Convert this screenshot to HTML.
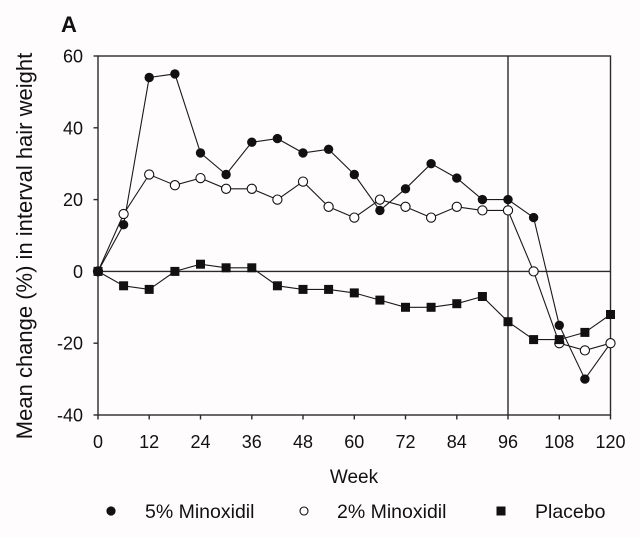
<!DOCTYPE html>
<html>
<head>
<meta charset="utf-8">
<style>
html,body{margin:0;padding:0;background:#fffcfe;}
svg{display:block;}
text{font-family:"Liberation Sans",Arial,sans-serif;fill:#111;}
</style>
</head>
<body>
<svg width="640" height="537" viewBox="0 0 640 537" xmlns="http://www.w3.org/2000/svg">
<rect x="0" y="0" width="640" height="537" fill="#fffcfe"/>
<text x="61" y="32" font-size="22" font-weight="bold">A</text>

<!-- plot frame -->
<g stroke="#2a2a2a" stroke-width="1.4" fill="none">
<rect x="98" y="56" width="512.5" height="359"/>
<line x1="98" y1="271.4" x2="610.5" y2="271.4"/>
<line x1="508" y1="56" x2="508" y2="415"/>
<!-- y ticks -->
<line x1="93.5" y1="56" x2="98" y2="56"/>
<line x1="93.5" y1="127.8" x2="98" y2="127.8"/>
<line x1="93.5" y1="199.6" x2="98" y2="199.6"/>
<line x1="93.5" y1="271.4" x2="98" y2="271.4"/>
<line x1="93.5" y1="343.2" x2="98" y2="343.2"/>
<line x1="93.5" y1="415" x2="98" y2="415"/>
<!-- x ticks -->
<line x1="98" y1="415" x2="98" y2="419.5"/>
<line x1="149.2" y1="415" x2="149.2" y2="419.5"/>
<line x1="200.5" y1="415" x2="200.5" y2="419.5"/>
<line x1="251.8" y1="415" x2="251.8" y2="419.5"/>
<line x1="303" y1="415" x2="303" y2="419.5"/>
<line x1="354.3" y1="415" x2="354.3" y2="419.5"/>
<line x1="405.5" y1="415" x2="405.5" y2="419.5"/>
<line x1="456.8" y1="415" x2="456.8" y2="419.5"/>
<line x1="508" y1="415" x2="508" y2="419.5"/>
<line x1="559.3" y1="415" x2="559.3" y2="419.5"/>
<line x1="610.5" y1="415" x2="610.5" y2="419.5"/>
</g>

<!-- y tick labels -->
<g font-size="18" text-anchor="end">
<text x="83" y="62.5">60</text>
<text x="83" y="134.3">40</text>
<text x="83" y="206.1">20</text>
<text x="83" y="277.9">0</text>
<text x="83" y="349.7">-20</text>
<text x="83" y="421.5">-40</text>
</g>
<!-- x tick labels -->
<g font-size="18" text-anchor="middle">
<text x="98" y="448">0</text>
<text x="149.2" y="448">12</text>
<text x="200.5" y="448">24</text>
<text x="251.8" y="448">36</text>
<text x="303" y="448">48</text>
<text x="354.3" y="448">60</text>
<text x="405.5" y="448">72</text>
<text x="456.8" y="448">84</text>
<text x="508" y="448">96</text>
<text x="559.3" y="448">108</text>
<text x="610.5" y="448">120</text>
</g>
<text x="354" y="483" font-size="19" text-anchor="middle">Week</text>
<text transform="translate(32,246) rotate(-90)" font-size="22" text-anchor="middle">Mean change (%) in interval hair weight</text>

<!-- series lines -->
<g fill="none" stroke="#1a1a1a" stroke-width="1.1">
<polyline points="98,271.4 123.6,224.7 149.2,77.5 174.9,73.9 200.5,152.9 226.1,174.5 251.8,142.2 277.4,138.6 303,152.9 328.6,149.3 354.3,174.5 379.9,210.4 405.5,188.8 431.1,163.7 456.8,178.1 482.4,199.6 508,199.6 533.6,217.6 559.3,325.3 584.9,379.1 610.5,343.2"/>
<polyline points="98,271.4 123.6,214 149.2,174.5 174.9,185.2 200.5,178.1 226.1,188.8 251.8,188.8 277.4,199.6 303,181.6 328.6,206.8 354.3,217.6 379.9,199.6 405.5,206.8 431.1,217.6 456.8,206.8 482.4,210.4 508,210.4 533.6,271.4 559.3,343.2 584.9,350.4 610.5,343.2"/>
<polyline points="98,271.4 123.6,285.8 149.2,289.4 174.9,271.4 200.5,264.2 226.1,267.8 251.8,267.8 277.4,285.8 303,289.4 328.6,289.4 354.3,292.9 379.9,300.1 405.5,307.3 431.1,307.3 456.8,303.7 482.4,296.5 508,321.7 533.6,339.6 559.3,339.6 584.9,332.4 610.5,314.5"/>
</g>

<!-- 5% markers -->
<g fill="#111">
<circle cx="98" cy="271.4" r="4.7"/><circle cx="123.6" cy="224.7" r="4.7"/><circle cx="149.2" cy="77.5" r="4.7"/><circle cx="174.9" cy="73.9" r="4.7"/><circle cx="200.5" cy="152.9" r="4.7"/><circle cx="226.1" cy="174.5" r="4.7"/><circle cx="251.8" cy="142.2" r="4.7"/><circle cx="277.4" cy="138.6" r="4.7"/><circle cx="303" cy="152.9" r="4.7"/><circle cx="328.6" cy="149.3" r="4.7"/><circle cx="354.3" cy="174.5" r="4.7"/><circle cx="379.9" cy="210.4" r="4.7"/><circle cx="405.5" cy="188.8" r="4.7"/><circle cx="431.1" cy="163.7" r="4.7"/><circle cx="456.8" cy="178.1" r="4.7"/><circle cx="482.4" cy="199.6" r="4.7"/><circle cx="508" cy="199.6" r="4.7"/><circle cx="533.6" cy="217.6" r="4.7"/><circle cx="559.3" cy="325.3" r="4.7"/><circle cx="584.9" cy="379.1" r="4.7"/><circle cx="610.5" cy="343.2" r="4.7"/>
</g>
<!-- 2% markers -->
<g fill="#fff" stroke="#111" stroke-width="1.1">
<circle cx="98" cy="271.4" r="4.6"/><circle cx="123.6" cy="214" r="4.6"/><circle cx="149.2" cy="174.5" r="4.6"/><circle cx="174.9" cy="185.2" r="4.6"/><circle cx="200.5" cy="178.1" r="4.6"/><circle cx="226.1" cy="188.8" r="4.6"/><circle cx="251.8" cy="188.8" r="4.6"/><circle cx="277.4" cy="199.6" r="4.6"/><circle cx="303" cy="181.6" r="4.6"/><circle cx="328.6" cy="206.8" r="4.6"/><circle cx="354.3" cy="217.6" r="4.6"/><circle cx="379.9" cy="199.6" r="4.6"/><circle cx="405.5" cy="206.8" r="4.6"/><circle cx="431.1" cy="217.6" r="4.6"/><circle cx="456.8" cy="206.8" r="4.6"/><circle cx="482.4" cy="210.4" r="4.6"/><circle cx="508" cy="210.4" r="4.6"/><circle cx="533.6" cy="271.4" r="4.6"/><circle cx="559.3" cy="343.2" r="4.6"/><circle cx="584.9" cy="350.4" r="4.6"/><circle cx="610.5" cy="343.2" r="4.6"/>
</g>
<!-- placebo markers -->
<g fill="#111">
<rect x="93.5" y="266.9" width="9" height="9"/><rect x="119.1" y="281.3" width="9" height="9"/><rect x="144.7" y="284.9" width="9" height="9"/><rect x="170.4" y="266.9" width="9" height="9"/><rect x="196" y="259.7" width="9" height="9"/><rect x="221.6" y="263.3" width="9" height="9"/><rect x="247.3" y="263.3" width="9" height="9"/><rect x="272.9" y="281.3" width="9" height="9"/><rect x="298.5" y="284.9" width="9" height="9"/><rect x="324.1" y="284.9" width="9" height="9"/><rect x="349.8" y="288.4" width="9" height="9"/><rect x="375.4" y="295.6" width="9" height="9"/><rect x="401" y="302.8" width="9" height="9"/><rect x="426.6" y="302.8" width="9" height="9"/><rect x="452.3" y="299.2" width="9" height="9"/><rect x="477.9" y="292" width="9" height="9"/><rect x="503.5" y="317.2" width="9" height="9"/><rect x="529.1" y="335.1" width="9" height="9"/><rect x="554.8" y="335.1" width="9" height="9"/><rect x="580.4" y="327.9" width="9" height="9"/><rect x="606" y="310" width="9" height="9"/>
</g>

<!-- legend -->
<circle cx="111" cy="511" r="4.6" fill="#111"/>
<text x="145" y="518" font-size="19.5">5% Minoxidil</text>
<circle cx="304" cy="511" r="4" fill="#fff" stroke="#111" stroke-width="1.1"/>
<text x="337" y="518" font-size="19.5">2% Minoxidil</text>
<rect x="496.5" y="506.5" width="9" height="9" fill="#111"/>
<text x="535" y="518" font-size="19.5">Placebo</text>
</svg>
</body>
</html>
